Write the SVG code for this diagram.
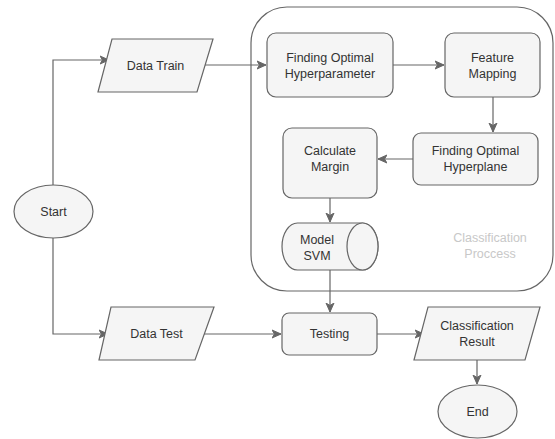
<svg xmlns="http://www.w3.org/2000/svg" width="555" height="439" viewBox="0 0 555 439">
<defs>
<marker id="arr" markerUnits="userSpaceOnUse" markerWidth="10" markerHeight="10" viewBox="0 0 10 10" refX="9" refY="5" orient="auto">
<path d="M0,1 L9,5 L0,9 L2.5,5 Z" fill="#666666" stroke="#666666" stroke-width="1"/>
</marker>
</defs>
<style>
.n{fill:#f5f5f5;stroke:#666666;stroke-width:1.2}
.t{font-family:"Liberation Sans",Arial,sans-serif;font-size:12.5px;fill:#333333;text-anchor:middle}
.c{fill:none;stroke:#666666;stroke-width:1.2;marker-end:url(#arr)}
.lbl{font-family:"Liberation Sans",Arial,sans-serif;font-size:12.5px;fill:#c8c8c8;text-anchor:middle}
</style>
<rect width="555" height="439" fill="#ffffff"/>
<g id="container">
<rect x="251" y="7" width="302" height="284" rx="36" ry="36" fill="none" stroke="#666666" stroke-width="1.2"/>
<text class="lbl" x="490" y="242">Classification</text>
<text class="lbl" x="490" y="258">Proccess</text>
</g>
<g id="connectors">
<path class="c" d="M53,185 L53,60 L109,60"/>
<path class="c" d="M205,65 L266,65"/>
<path class="c" d="M393,65 L444,65"/>
<path class="c" d="M493,97 L493,132"/>
<path class="c" d="M413,159 L378,159"/>
<path class="c" d="M330,198 L330,222"/>
<path class="c" d="M53,238 L53,334 L108,334"/>
<path class="c" d="M330,270 L330,312"/>
<path class="c" d="M203,334 L281,334"/>
<path class="c" d="M377,334 L424,334"/>
<path class="c" d="M477,360 L477,384"/>
</g>
<g id="start">
<ellipse class="n" cx="53.5" cy="211.5" rx="39.5" ry="26.5"/>
<text class="t" x="53.5" y="216">Start</text>
</g>
<g id="data-train">
<polygon class="n" points="112,39 213,39 197,92 98,92"/>
<text class="t" x="155.5" y="70">Data Train</text>
</g>
<g id="data-test">
<polygon class="n" points="111,307 214,307 195,360 99,360"/>
<text class="t" x="156.5" y="338">Data Test</text>
</g>
<g id="hyperparameter">
<rect class="n" x="267" y="33" width="126" height="64" rx="9" ry="9"/>
<text class="t" x="330" y="62">Finding Optimal</text>
<text class="t" x="330" y="78">Hyperparameter</text>
</g>
<g id="feature-mapping">
<rect class="n" x="445" y="33" width="95" height="64" rx="9" ry="9"/>
<text class="t" x="492.5" y="62">Feature</text>
<text class="t" x="492.5" y="78">Mapping</text>
</g>
<g id="hyperplane">
<rect class="n" x="413" y="133" width="125" height="52" rx="8" ry="8"/>
<text class="t" x="475.5" y="155">Finding Optimal</text>
<text class="t" x="475.5" y="171">Hyperplane</text>
</g>
<g id="margin">
<rect class="n" x="283" y="128" width="94" height="70" rx="9" ry="9"/>
<text class="t" x="330" y="155">Calculate</text>
<text class="t" x="330" y="171">Margin</text>
</g>
<g id="model-svm">
<path class="n" d="M297.5,223 L362.5,223 A15.5,23.5 0 0 1 362.5,270 L297.5,270 A15.5,23.5 0 0 1 297.5,223 Z"/>
<ellipse class="n" cx="362.5" cy="246.5" rx="15.5" ry="23.5"/>
<text class="t" x="317" y="244">Model</text>
<text class="t" x="317" y="260">SVM</text>
</g>
<g id="testing">
<rect class="n" x="282" y="313" width="95" height="42" rx="7" ry="7"/>
<text class="t" x="329.5" y="338">Testing</text>
</g>
<g id="result">
<polygon class="n" points="428,307 540,307 525,360 414,360"/>
<text class="t" x="477" y="330">Classification</text>
<text class="t" x="477" y="346">Result</text>
</g>
<g id="end">
<ellipse class="n" cx="477.5" cy="411.5" rx="39.5" ry="26.5"/>
<text class="t" x="477.5" y="416">End</text>
</g>
</svg>
